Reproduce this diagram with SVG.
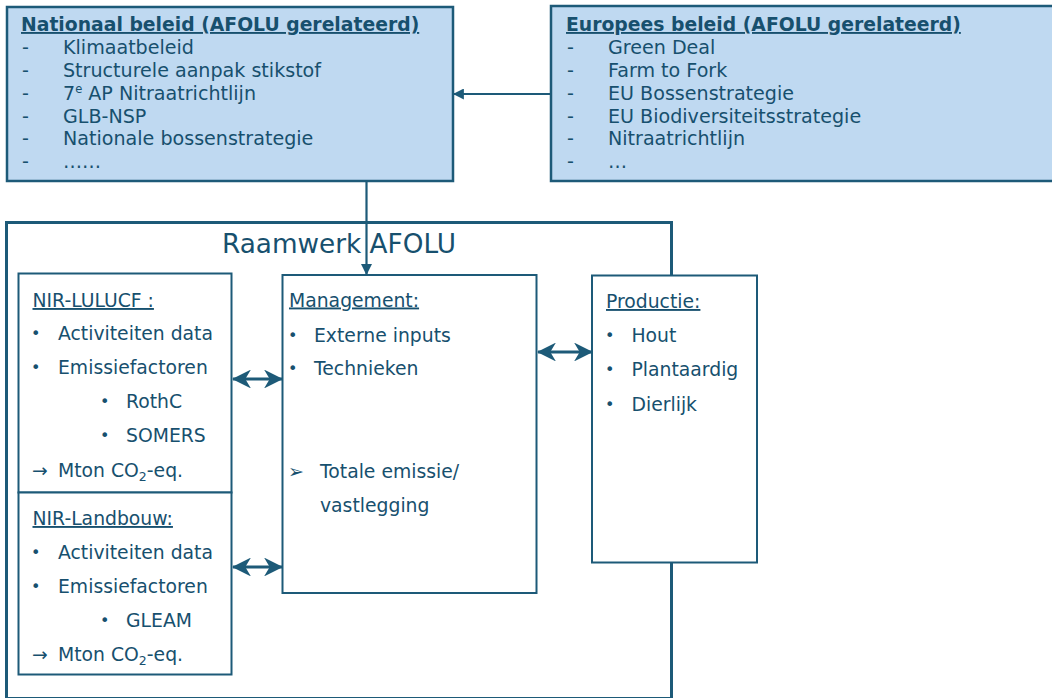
<svg xmlns="http://www.w3.org/2000/svg" width="1052" height="698" viewBox="0 0 1052 698">
<defs>
<style>
.t{font-family:"DejaVu Sans","Liberation Sans",sans-serif;fill:#17506E;}
.top{font-size:19.1px;}
.hd{font-size:18.8px;font-weight:bold;text-decoration:underline;}
.in{font-size:18.8px;}
.b{font-size:16px;}
.u{text-decoration:underline;}
.box{fill:#BFD9F1;stroke:#1D5A78;stroke-width:2.5;}
.wb{fill:#FFFFFF;stroke:#1D5A78;stroke-width:2;}
.ln{stroke:#1D5A78;stroke-width:2.2;fill:none;}
.dl{stroke:#1D5A78;stroke-width:3;fill:none;}
</style>
<marker id="tri" viewBox="0 0 10 10" refX="9" refY="5" markerWidth="5" markerHeight="5" orient="auto-start-reverse" markerUnits="strokeWidth">
<path d="M0,0 L10,5 L0,10 z" fill="#1D5A78"/>
</marker>
<marker id="stl" viewBox="0 0 10 10" refX="9.5" refY="5" markerWidth="6.3" markerHeight="6.3" orient="auto-start-reverse" markerUnits="strokeWidth">
<path d="M0,0 L10,5 L0,10 L3,5 z" fill="#1D5A78"/>
</marker>
</defs>
<rect width="1052" height="698" fill="#FFFFFF"/>

<g id="raamwerk">
<rect x="6.5" y="222.5" width="665" height="476" fill="none" stroke="#1D5A78" stroke-width="3"/>
<text class="t" x="222" y="253" font-size="26.3">Raamwerk AFOLU</text>
</g>

<g id="nationaal">
<rect class="box" x="7" y="7" width="446" height="174"/>
<text class="t hd" x="21" y="31">Nationaal beleid (AFOLU gerelateerd)</text>
<text class="t top" x="22" y="54">-</text><text class="t top" x="63" y="54">Klimaatbeleid</text>
<text class="t top" x="22" y="77">-</text><text class="t top" x="63" y="77">Structurele aanpak stikstof</text>
<text class="t top" x="22" y="100">-</text><text class="t top" x="63" y="100">7<tspan font-size="11.5" dy="-7">e</tspan><tspan dy="7"> AP Nitraatrichtlijn</tspan></text>
<text class="t top" x="22" y="122.5">-</text><text class="t top" x="63" y="122.5">GLB-NSP</text>
<text class="t top" x="22" y="145">-</text><text class="t top" x="63" y="145">Nationale bossenstrategie</text>
<text class="t top" x="22" y="168">-</text><text class="t top" x="63" y="168">……</text>
</g>

<g id="europees">
<rect class="box" x="551" y="6" width="510" height="175"/>
<text class="t hd" x="566" y="31">Europees beleid (AFOLU gerelateerd)</text>
<text class="t top" x="567" y="54">-</text><text class="t top" x="608" y="54">Green Deal</text>
<text class="t top" x="567" y="77">-</text><text class="t top" x="608" y="77">Farm to Fork</text>
<text class="t top" x="567" y="100">-</text><text class="t top" x="608" y="100">EU Bossenstrategie</text>
<text class="t top" x="567" y="122.5">-</text><text class="t top" x="608" y="122.5">EU Biodiversiteitsstrategie</text>
<text class="t top" x="567" y="145">-</text><text class="t top" x="608" y="145">Nitraatrichtlijn</text>
<text class="t top" x="567" y="168">-</text><text class="t top" x="608" y="168">…</text>
</g>

<g id="lulucf">
<rect class="wb" x="18.5" y="273.5" width="213" height="219"/>
<text class="t in u" x="32.5" y="307">NIR-LULUCF :</text>
<text class="t b" x="31" y="339">•</text><text class="t in" x="58" y="340">Activiteiten data</text>
<text class="t b" x="31" y="373">•</text><text class="t in" x="58" y="374">Emissiefactoren</text>
<text class="t b" x="100" y="407">•</text><text class="t in" x="126" y="408">RothC</text>
<text class="t b" x="100" y="440.5">•</text><text class="t in" x="126" y="441.5">SOMERS</text>
<text class="t in" x="32" y="476.5">→</text><text class="t in" x="58" y="476.5">Mton CO<tspan font-size="12.5" dy="4">2</tspan><tspan dy="-4">-eq.</tspan></text>
</g>

<g id="landbouw">
<rect class="wb" x="18.5" y="492.5" width="213" height="182"/>
<text class="t in u" x="32.5" y="525">NIR-Landbouw:</text>
<text class="t b" x="31" y="558">•</text><text class="t in" x="58" y="559">Activiteiten data</text>
<text class="t b" x="31" y="591.5">•</text><text class="t in" x="58" y="592.5">Emissiefactoren</text>
<text class="t b" x="100" y="625.5">•</text><text class="t in" x="126" y="626.5">GLEAM</text>
<text class="t in" x="32" y="661">→</text><text class="t in" x="58" y="661">Mton CO<tspan font-size="12.5" dy="4">2</tspan><tspan dy="-4">-eq.</tspan></text>
</g>

<g id="management">
<rect class="wb" x="282.5" y="275" width="254" height="318"/>
<text class="t in u" x="289" y="306.5">Management:</text>
<text class="t b" x="288" y="340.5">•</text><text class="t in" x="314" y="341.5">Externe inputs</text>
<text class="t b" x="288" y="374">•</text><text class="t in" x="314" y="375">Technieken</text>
<text class="t" x="288" y="478" font-size="19">➢</text><text class="t in" x="320" y="478">Totale emissie/</text>
<text class="t in" x="320" y="511.5">vastlegging</text>
</g>

<g id="productie">
<rect class="wb" x="592" y="275.5" width="165" height="287"/>
<text class="t in u" x="606" y="308">Productie:</text>
<text class="t b" x="605" y="341">•</text><text class="t in" x="631.5" y="342">Hout</text>
<text class="t b" x="605" y="375">•</text><text class="t in" x="631.5" y="376">Plantaardig</text>
<text class="t b" x="605" y="409.5">•</text><text class="t in" x="631.5" y="410.5">Dierlijk</text>
</g>

<g id="connectors">
<line class="ln" x1="551" y1="94" x2="454" y2="94" marker-end="url(#tri)"/>
<line class="ln" x1="366.5" y1="181" x2="366.5" y2="274" marker-end="url(#tri)"/>
<line class="dl" x1="233" y1="379" x2="282" y2="379" marker-start="url(#stl)" marker-end="url(#stl)"/>
<line class="dl" x1="233" y1="567" x2="282" y2="567" marker-start="url(#stl)" marker-end="url(#stl)"/>
<line class="dl" x1="538" y1="352" x2="592" y2="352" marker-start="url(#stl)" marker-end="url(#stl)"/>
</g>
</svg>
